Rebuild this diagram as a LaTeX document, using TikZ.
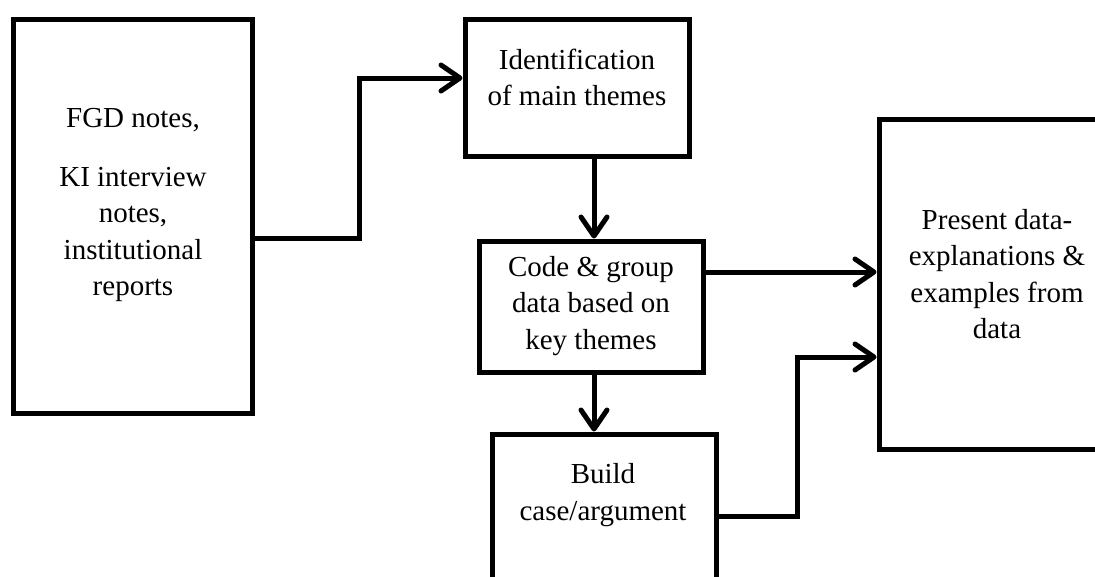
\documentclass[tikz,border=0pt]{standalone}
\usepackage{fontspec}
\setmainfont{Liberation Serif}
\usetikzlibrary{arrows.meta}

\begin{document}
\begin{tikzpicture}[x=1pt,y=-1pt]
        \tikzstyle{caixa}=[draw=black, line width=5pt, rectangle, inner sep=0pt, minimum width=224pt]
        \tikzstyle{texto}=[align=center, inner sep=0pt, font=\fontsize{29}{36.5}\selectfont]
        \tikzstyle{seta}=[line width=5pt, -{Straight Barb[length=19pt,width=26pt,round]}]

        \useasboundingbox (0,0) rectangle (1095,576);
        \clip (0,0) rectangle (1095,576);

        \node (N) at (132.5,216)[caixa, minimum width=239pt, minimum height=394pt]{};
        \node (I) at (577,87.5)[caixa, minimum height=137pt]{};
        \node (C) at (591,306.5)[caixa, minimum height=131pt]{};
        \node (B) at (604,537)[caixa, minimum height=206pt]{};
        \node (P) at (1009.5,284)[caixa, minimum width=261pt, minimum height=330pt]{};

        \node (n) at (133,205)[texto]{FGD notes,\\[22pt]KI interview\\notes,\\institutional\\reports};
        \node (i) at (577,77.5)[texto]{Identification\\of main themes};
        \node (c) at (591,306)[texto]{Code \& group\\data based on\\key themes};
        \node (b) at (603,495)[texto]{Build\\case/argument};
        \node (p) at (997,274)[texto]{Present data-\\explanations \&\\examples from\\data};

        \coordinate (E1) at (359,238);
        \coordinate (E2) at (359,78);
        \coordinate (X) at (594,0);
        \coordinate (Y) at (0,272);
        \coordinate (E3) at (797,516);
        \coordinate (E4) at (797,357);

        \draw[seta] (N.east |- E1) -- (E1) -- (E2) -- (I.west |- E2);
        \draw[seta] (I.south -| X) -- (C.north -| X);
        \draw[seta] (C.east |- Y) -- (P.west |- Y);
        \draw[seta] (C.south -| X) -- (B.north -| X);
        \draw[seta] (B.east |- E3) -- (E3) -- (E4) -- (P.west |- E4);
      \end{tikzpicture}
\end{document}
